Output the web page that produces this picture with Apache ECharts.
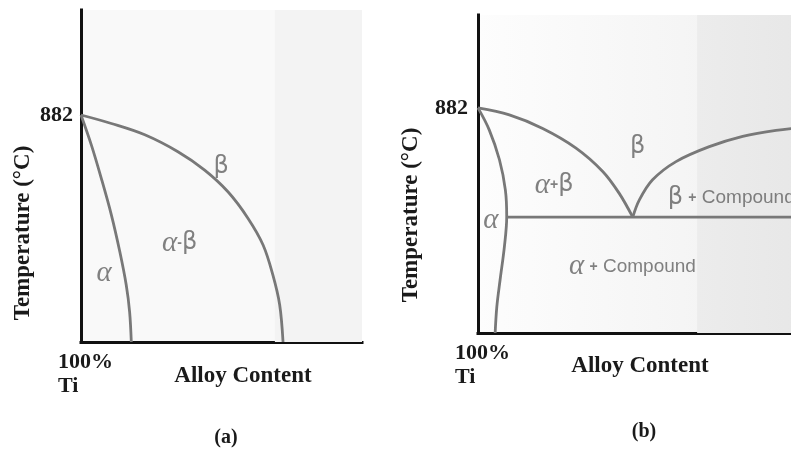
<!DOCTYPE html>
<html>
<head>
<meta charset="utf-8">
<script src="https://cdn.jsdelivr.net/npm/echarts@6/dist/echarts.min.js"></script>
<style>
  html, body { margin: 0; padding: 0; background: #fff; }
  #chart { width: 791px; height: 451px; }
</style>
</head>
<body>
<div id="chart"></div>
<script>
// Phase boundaries, alloy content (0-100, arbitrary) vs temperature (°C)
// (a) isomorphous-type system
const alphaSolvusA = [[0, 882], [3.7, 818], [7.2, 748], [10.8, 670], [13.8, 592], [16.1, 521], [17.3, 464], [17.9, 400]];
const betaTransusA = [[0, 882], [10.8, 864], [22.7, 840], [34.5, 804], [44.0, 765], [52.3, 719], [59.4, 663], [64.8, 606], [68.3, 542], [70.7, 479], [71.9, 400]];

// (b) eutectoid-type system
const alphaSolvusB = [[0, 882], [3.4, 835], [6.5, 771], [8.3, 706], [8.7, 649], [8.0, 585], [6.7, 514], [5.7, 456], [5.2, 400]];
const eutectoidB = [[8.7, 648], [100, 648]];
const betaTransusB = [[0, 882], [9.5, 867], [19.6, 838], [29.7, 796], [37.8, 746], [42.8, 699], [46.9, 648]];
const betaCompoundB = [[46.9, 648], [48.9, 685], [52.9, 728], [60.0, 767], [70.1, 799], [80.2, 821], [90.3, 834], [100, 841]];

// Phase-field names placed at [alloy content, temperature]
const fieldsA = [['β', 49.9, 772], ['α-β', 35.1, 610], ['α', 8.2, 546]];
const fieldsB = [['β', 48.4, 799], ['α+β', 23.1, 717], ['α', 3.9, 642], ['α + Compound', 46.8, 542]];
const fieldsBLeft = [['β + Compound', 57.5, 689]];

// Axis annotations
const tempTicks = [882];
const originLabel = ['100%', 'Ti'];
const xTitle = 'Alloy Content';
const yTitle = 'Temperature (°C)';
const panelTags = ['(a)', '(b)'];

// Shaded bands on the right of each panel (alloy content range)
const bandA = [69, 100];
const bandB = [66.4, 100];

const INK = '#1a1a1a';
const CURVE = '#787878';
const FIELD = '#626262';
const SERIF = '"Liberation Serif", "Times New Roman", serif';
const SANS = '"Liberation Sans", Arial, sans-serif';

function richText(s) {
  return s.split(/(α|β|\+|-)/).filter(Boolean).map(t => {
    if (t === 'α') return '{a|α}';
    if (t === 'β') return '{b|β}';
    if (t === '+' || t === '-') return '{p|' + t + '}';
    return '{c|' + t + '}';
  }).join('');
}
const fieldRich = {
  a: { fontFamily: SERIF, fontStyle: 'italic', fontSize: 29, color: FIELD, verticalAlign: 'middle' },
  b: { fontFamily: '"DejaVu Sans", sans-serif', fontSize: 24, color: FIELD, verticalAlign: 'middle' },
  p: { fontFamily: SANS, fontSize: 14, fontWeight: 'bold', color: FIELD, verticalAlign: 'middle' },
  c: { fontFamily: SANS, fontSize: 19, color: FIELD, verticalAlign: 'middle' }
};

function axisX(grid) {
  return {
    gridIndex: grid, type: 'value', min: 0, max: 100,
    axisLine: { show: true, onZero: false, lineStyle: { color: '#111', width: 3, cap: 'square' } },
    axisTick: { show: false }, axisLabel: { show: false }, splitLine: { show: false }
  };
}
function axisY(grid, max, margin) {
  return {
    gridIndex: grid, type: 'value', min: 400, max: max,
    axisLine: { show: true, onZero: false, lineStyle: { color: '#111', width: 3, cap: 'square' } },
    axisTick: { show: false }, splitLine: { show: false },
    axisLabel: {
      customValues: tempTicks, margin: margin,
      fontFamily: SERIF, fontWeight: 'bold', fontSize: 22, color: INK
    }
  };
}
function curve(data, idx) {
  return {
    type: 'line', xAxisIndex: idx, yAxisIndex: idx, data: data,
    showSymbol: false, smooth: 0.35, smoothMonotone: 'none', z: 3, silent: true,
    lineStyle: { color: CURVE, width: 2.8 }, clip: true
  };
}
function fields(list, idx, position) {
  return {
    type: 'scatter', xAxisIndex: idx, yAxisIndex: idx, symbolSize: 0, z: 4, silent: true,
    data: list.map(f => ({ name: f[0], value: [f[1], f[2]] })),
    label: {
      show: true, position: position, distance: 0,
      formatter: p => richText(p.name), rich: fieldRich
    }
  };
}
function band(range, idx, colors) {
  return {
    type: 'line', xAxisIndex: idx, yAxisIndex: idx, data: [], z: 1, silent: true,
    markArea: {
      silent: true,
      itemStyle: {
        color: { type: 'linear', x: 0, y: 0, x2: 1, y2: 0,
          colorStops: [{ offset: 0, color: colors[0] }, { offset: 1, color: colors[1] }] }
      },
      data: [[{ xAxis: range[0], yAxis: 400 }, { xAxis: range[1], yAxis: 2000 }]]
    }
  };
}

const chart = echarts.init(document.getElementById('chart'), null, { renderer: 'canvas' });

function caption(text, x, y, font, align, extra) {
  return Object.assign({
    type: 'text', x: x, y: y, silent: true,
    style: { text: text, font: font, fill: INK, align: align || 'center', verticalAlign: 'middle' }
  }, extra || {});
}

chart.setOption({
  animation: false,
  backgroundColor: '#ffffff',
  grid: [
    { left: 81, top: 10, width: 281, height: 332, show: true, borderWidth: 0, backgroundColor: '#f9f9f9',
      outerBoundsMode: 'none', containLabel: false },
    { left: 478, top: 15, width: 330, height: 318, show: true, borderWidth: 0,
      outerBoundsMode: 'none', containLabel: false,
      backgroundColor: { type: 'linear', x: 0, y: 0, x2: 1, y2: 0,
        colorStops: [{ offset: 0, color: '#fdfdfd' }, { offset: 1, color: '#f0f0f0' }] } }
  ],
  xAxis: [axisX(0), axisX(1)],
  yAxis: [axisY(0, 1105, 8), axisY(1, 1081, 10)],
  series: [
    band(bandA, 0, ['#f3f3f3', '#f3f3f3']),
    band(bandB, 1, ['#ececec', '#e7e7e7']),
    curve(alphaSolvusA, 0),
    curve(betaTransusA, 0),
    curve(alphaSolvusB, 1),
    curve(eutectoidB, 1),
    curve(betaTransusB, 1),
    curve(betaCompoundB, 1),
    fields(fieldsA, 0, 'inside'),
    fields(fieldsB, 1, 'inside'),
    fields(fieldsBLeft, 1, 'right')
  ],
  graphic: [
    caption(yTitle, 23, 233, 'bold 23px ' + SERIF, 'center', { rotation: Math.PI / 2 }),
    caption(yTitle, 411, 215, 'bold 23px ' + SERIF, 'center', { rotation: Math.PI / 2 }),
    caption(originLabel[0], 58, 362, 'bold 22px ' + SERIF, 'left'),
    caption(originLabel[1], 58, 386, 'bold 22px ' + SERIF, 'left'),
    caption(originLabel[0], 455, 353, 'bold 22px ' + SERIF, 'left'),
    caption(originLabel[1], 455, 377, 'bold 22px ' + SERIF, 'left'),
    caption(xTitle, 243, 376, 'bold 23px ' + SERIF),
    caption(xTitle, 640, 366, 'bold 23px ' + SERIF),
    caption(panelTags[0], 226, 438, 'bold 20px ' + SERIF),
    caption(panelTags[1], 644, 432, 'bold 20px ' + SERIF)
  ]
});
</script>
</body>
</html>
